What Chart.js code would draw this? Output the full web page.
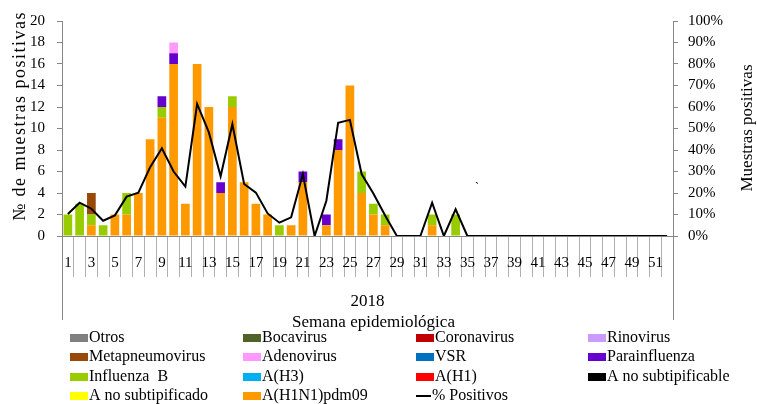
<!DOCTYPE html>
<html>
<head>
<meta charset="utf-8">
<script src="https://cdn.jsdelivr.net/npm/chart.js@4.4.1/dist/chart.umd.min.js"></script>
<style>
  html, body { margin: 0; padding: 0; background: #fff; }
  #wrap { width: 757px; height: 404px; }
</style>
</head>
<body>
<div id="wrap"><canvas id="virusChart"></canvas></div>
<script>
const FONT = '"Liberation Serif", "DejaVu Serif", serif';

/// Categories: epidemiological weeks 2018
const weeks = [
  '1','2','3','4','5','6','7','8','9','10','11','12','13',
  '14','15','16','17','18','19','20','21','22','23','24','25','26',
  '27','28','29','30','31','32','33','34','35','36','37','38','39',
  '40','41','42','43','44','45','46','47','48','49','50','51','52'
];

/// Positive samples per virus (only series that have values)
const pdm09 = [
  0,0,1,0,2,2,4,9,11,16,3,16,12,
  4,12,5,3,2,0,1,5,0,1,8,14,4,
  2,1,0,0,0,1,0,0,0,0,0,0,0,
  0,0,0,0,0,0,0,0,0,0,0,0,0
];
const influenzaB = [
  2,3,1,1,0,2,0,0,1,0,0,0,0,
  0,1,0,0,0,1,0,0,0,0,0,0,2,
  1,1,0,0,0,1,0,2,0,0,0,0,0,
  0,0,0,0,0,0,0,0,0,0,0,0,0
];
const parainfluenza = [
  0,0,0,0,0,0,0,0,1,1,0,0,0,
  1,0,0,0,0,0,0,1,0,1,1,0,0,
  0,0,0,0,0,0,0,0,0,0,0,0,0,
  0,0,0,0,0,0,0,0,0,0,0,0,0
];
const adenovirus = [
  0,0,0,0,0,0,0,0,0,1,0,0,0,
  0,0,0,0,0,0,0,0,0,0,0,0,0,
  0,0,0,0,0,0,0,0,0,0,0,0,0,
  0,0,0,0,0,0,0,0,0,0,0,0,0
];
const metapneumovirus = [
  0,0,2,0,0,0,0,0,0,0,0,0,0,
  0,0,0,0,0,0,0,0,0,0,0,0,0,
  0,0,0,0,0,0,0,0,0,0,0,0,0,
  0,0,0,0,0,0,0,0,0,0,0,0,0
];
const emptySeries = [];

/// % positive samples (right axis)
const pctPositivos = [
  10.2,15.5,12.7,7.1,9.6,18.3,20.2,32,40.8,30,23,61.4,48.2,
  27.8,52,24.2,20.2,10.5,6.2,8.7,28.8,0,16.4,52.7,54,28.8,
  19.8,9.5,0,0,0,15.5,0,12.4,0,0,0,0,0,
  0,0,0,0,0,0,0,0,0,0,0,0,0
];

const leftTicks = [0,2,4,6,8,10,12,14,16,18,20];
const rightTicks = [0,10,20,30,40,50,60,70,80,90,100];

/// Series in stacking order (bottom first)
const series = [
  { label: 'A(H1N1)pdm09', color: '#ff9900', data: pdm09 },
  { label: 'A no subtipificado', color: '#ffff00', data: emptySeries },
  { label: 'A no subtipificable', color: '#000000', data: emptySeries },
  { label: 'A(H1)', color: '#ff0000', data: emptySeries },
  { label: 'A(H3)', color: '#00b0f0', data: emptySeries },
  { label: 'Influenza  B', color: '#99cc00', data: influenzaB },
  { label: 'Parainfluenza', color: '#6600cc', data: parainfluenza },
  { label: 'VSR', color: '#0070c0', data: emptySeries },
  { label: 'Adenovirus', color: '#ff99ff', data: adenovirus },
  { label: 'Metapneumovirus', color: '#984807', data: metapneumovirus },
  { label: 'Rinovirus', color: '#cc99ff', data: emptySeries },
  { label: 'Coronavirus', color: '#c00000', data: emptySeries },
  { label: 'Bocavirus', color: '#4f6228', data: emptySeries },
  { label: 'Otros', color: '#808080', data: emptySeries }
];

/// Legend order (4 columns, row by row)
const legendOrder = [
  'Otros', 'Bocavirus', 'Coronavirus', 'Rinovirus',
  'Metapneumovirus', 'Adenovirus', 'VSR', 'Parainfluenza',
  'Influenza  B', 'A(H3)', 'A(H1)', 'A no subtipificable',
  'A no subtipificado', 'A(H1N1)pdm09', '% Positivos'
];

const datasets = series.map(s => ({
    type: 'bar',
    label: s.label,
    backgroundColor: s.color,
    borderWidth: 0,
    barPercentage: 0.74,
    categoryPercentage: 1,
    yAxisID: 'y',
    order: 1,
    data: s.data
}));
datasets.push({
    type: 'line',
    label: '% Positivos',
    borderColor: '#000000',
    backgroundColor: '#000000',
    borderWidth: 2,
    pointRadius: 0,
    tension: 0,
    yAxisID: 'y1',
    order: 0,
    data: pctPositivos
});

/// Extra texts, outer axis box and legend
const decorPlugin = {
    id: 'decor',
    afterDraw(chart) {
        const ctx = chart.ctx;
        const x = chart.scales.x;
        const area = chart.chartArea;
        ctx.save();

        // outer box of the multi-level category axis
        ctx.strokeStyle = '#868686';
        ctx.lineWidth = 1;
        ctx.beginPath();
        ctx.moveTo(Math.round(x.left) + 0.5, area.bottom);
        ctx.lineTo(Math.round(x.left) + 0.5, 320);
        ctx.moveTo(Math.round(x.right) + 0.5, area.bottom);
        ctx.lineTo(Math.round(x.right) + 0.5, 320);
        ctx.stroke();

        ctx.fillStyle = '#000';
        ctx.textBaseline = 'middle';
        ctx.textAlign = 'center';
        ctx.font = '17px ' + FONT;
        ctx.fillText('2018', (x.left + x.right) / 2, 302);
        ctx.fillText('Semana epidemiológica', (x.left + x.right) / 2 + 6, 323);

        // axis titles
        ctx.save();
        ctx.translate(20, 116);
        ctx.rotate(-Math.PI / 2);
        ctx.font = '18px ' + FONT;
        ctx.letterSpacing = '1.5px';
        ctx.fillText('№ de muestras positivas', 0, 0);
        ctx.restore();
        ctx.save();
        ctx.translate(748, 128);
        ctx.rotate(-Math.PI / 2);
        ctx.fillText('Muestras positivas', 0, 0);
        ctx.restore();

        // stray mark
        ctx.font = '12px ' + FONT;
        ctx.fillText('`', 477, 188);

        // legend
        const colX = [70, 243, 416, 588];
        const rowY = [338, 357, 377, 396];
        ctx.font = '16px ' + FONT;
        ctx.textAlign = 'left';
        legendOrder.forEach((name, i) => {
            const cx = colX[i % 4];
            const cy = rowY[Math.floor(i / 4)];
            const ds = chart.data.datasets.find(d => d.label === name);
            if (ds.type === 'line') {
                ctx.strokeStyle = ds.borderColor;
                ctx.lineWidth = 2;
                ctx.beginPath();
                ctx.moveTo(cx, cy);
                ctx.lineTo(cx + 15, cy);
                ctx.stroke();
                ctx.fillText(name, cx + 16, cy);
            } else {
                ctx.fillStyle = ds.backgroundColor;
                ctx.fillRect(cx, cy - 4, 18, 8);
                ctx.fillStyle = '#000';
                ctx.fillText(name, cx + 19, cy);
            }
        });
        ctx.restore();
    }
};

const virusChart = new Chart('virusChart', {
    data: {
        labels: weeks,
        datasets: datasets
    },
    options: {
        responsive: true,
        maintainAspectRatio: false,
        animation: false,
        layout: {
            padding: { top: 21, left: 0, right: 0, bottom: 0 }
        },
        plugins: {
            legend: { display: false },
            tooltip: { enabled: false }
        },
        scales: {
            x: {
                stacked: true,
                offset: true,
                grid: {
                    offset: true,
                    drawOnChartArea: false,
                    tickLength: 41,
                    color: '#b0b0b0'
                },
                border: { color: '#868686' },
                ticks: {
                    autoSkip: false,
                    maxRotation: 0,
                    padding: -23,
                    color: '#000',
                    font: { family: FONT, size: 15 },
                    callback: (v, i) => (i % 2 === 0 ? weeks[i] : '')
                },
                afterFit: scale => { scale.height = 404 - 236; }
            },
            y: {
                stacked: true,
                position: 'left',
                min: 0,
                max: 20,
                afterBuildTicks: scale => { scale.ticks = leftTicks.map(v => ({ value: v })); },
                grid: {
                    drawOnChartArea: false,
                    tickLength: 5,
                    color: '#868686'
                },
                border: { color: '#868686' },
                ticks: {
                    padding: 12,
                    color: '#000',
                    font: { family: FONT, size: 15 }
                },
                afterFit: scale => { scale.width = 62; }
            },
            y1: {
                position: 'right',
                min: 0,
                max: 100,
                afterBuildTicks: scale => { scale.ticks = rightTicks.map(v => ({ value: v })); },
                grid: {
                    drawOnChartArea: false,
                    tickLength: 5,
                    color: '#868686'
                },
                border: { color: '#868686' },
                ticks: {
                    padding: 10,
                    color: '#000',
                    font: { family: FONT, size: 15 },
                    callback: v => v + '%'
                },
                afterFit: scale => { scale.width = 84; }
            }
        }
    },
    plugins: [decorPlugin]
});
</script>
</body>
</html>
